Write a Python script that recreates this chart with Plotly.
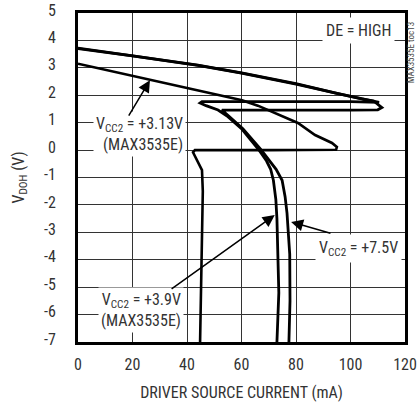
import plotly.graph_objects as go

# ---- data ----
x_tick_vals = [0, 20, 40, 60, 80, 100, 120]
x_tick_text = ["0", "20", "40", "60", "80", "100", "120"]
y_tick_vals = [5, 4, 3, 2, 1, 0, -1, -2, -3, -4, -5, -6, -7]
y_tick_text = ["5", "4", "3", "2", "1", "0", "-1", "-2", "-3", "-4", "-5", "-6", "-7"]

# Vcc2 = +3.13V (MAX3535E)
x_313 = [0, 20, 39.3, 50, 60.2, 66, 71.2, 76, 80.7, 87.0, 93.2, 95.0, 94.7, 70, 42.9, 42.2, 44.0, 45.5, 45.8, 45.5, 45.1, 44.8]
y_313 = [3.15, 2.70, 2.29, 2.05, 1.82, 1.62, 1.39, 1.19, 0.99, 0.55, 0.26, 0.11, 0.01, 0.0, 0.0, -0.08, -0.44, -0.73, -1.5, -3.0, -5.0, -7.0]

# Vcc2 = +3.9V (MAX3535E)
x_39 = [0, 20, 44, 60, 80, 95, 104, 108.5, 110.5, 100, 60, 45.5, 44.8, 47, 51.4, 55, 60, 66.2, 69.2, 70.7, 71.7, 72.6, 73.0, 73.3, 73.7, 73.0]
y_39 = [3.72, 3.45, 3.1, 2.82, 2.42, 2.07, 1.88, 1.80, 1.74, 1.77, 1.77, 1.77, 1.72, 1.62, 1.46, 1.22, 0.78, 0.03, -0.4, -0.7, -1.1, -1.8, -2.5, -3.65, -5.2, -7.0]

# Vcc2 = +7.5V
x_75 = [0, 20, 44, 60, 80, 95, 104, 108.5, 111.5, 110, 100, 70, 52.8, 55.5, 60.5, 67, 70.5, 72.7, 74.9, 76, 76.7, 77.2, 77.7, 77.8, 77.4]
y_75 = [3.70, 3.44, 3.09, 2.81, 2.41, 2.06, 1.87, 1.79, 1.55, 1.47, 1.46, 1.46, 1.46, 1.22, 0.78, 0.03, -0.4, -0.7, -1.1, -1.7, -2.3, -3.0, -3.8, -5.5, -7.0]

FONT = "Liberation Sans Narrow, Roboto Condensed, Arial Narrow, Liberation Sans, sans-serif"
TXT = "#333333"

fig = go.Figure()
for xs, ys, w in [(x_313, y_313, 2.6), (x_39, y_39, 2.8), (x_75, y_75, 2.8)]:
    fig.add_trace(go.Scatter(x=xs, y=ys, mode="lines",
                             line=dict(color="black", width=w),
                             showlegend=False, hoverinfo="skip"))

axis_common = dict(showgrid=True, gridcolor="#333333", gridwidth=1,
                   zeroline=False, showline=True, mirror=True,
                   linecolor="black", linewidth=3,
                   ticks="outside", tickcolor="rgba(0,0,0,0)",
                   tickfont=dict(family=FONT, size=16, color=TXT),
                   automargin=False, fixedrange=True)

fig.update_xaxes(range=[0, 120], tickvals=x_tick_vals, ticktext=x_tick_text, ticklen=6,
                 title=dict(text="DRIVER SOURCE CURRENT (mA)", standoff=14,
                            font=dict(family=FONT, size=16, color=TXT)),
                 **axis_common)
fig.update_yaxes(range=[-7, 5], tickvals=y_tick_vals, ticktext=y_tick_text, ticklen=16,
                 ticklabelshift=-3,
                 title=dict(text="V<sub>DOH</sub> (V)", standoff=16,
                            font=dict(family=FONT, size=16, color=TXT)),
                 **axis_common)

lab_font = dict(family=FONT, size=16, color=TXT)

annotations = [
    dict(x=102.8, y=4.38, text="DE = HIGH", showarrow=False, bgcolor="white",
         font=lab_font, xanchor="center", yanchor="middle", borderpad=3),
    dict(x=39.5, y=0.58, text="V<sub>CC2</sub> = +3.13V<br>(MAX3535E)", showarrow=False,
         bgcolor="white", font=lab_font, xanchor="right", yanchor="middle", align="right", borderpad=2),
    dict(x=118.8, y=-3.58, text="V<sub>CC2</sub> = +7.5V", showarrow=False,
         bgcolor="white", font=lab_font, xanchor="right", yanchor="middle", borderpad=3),
    dict(x=38.8, y=-5.85, text="V<sub>CC2</sub> = +3.9V<br>(MAX3535E)", showarrow=False,
         bgcolor="white", font=lab_font, xanchor="right", yanchor="middle", align="right", borderpad=2),
    # arrows
    dict(x=26.4, y=2.55, ax=18.3, ay=1.2, axref="x", ayref="y", text="", showarrow=True,
         arrowhead=2, arrowsize=1.6, arrowwidth=1.5, arrowcolor="black"),
    dict(x=78.2, y=-2.62, ax=93.2, ay=-3.05, axref="x", ayref="y", text="", showarrow=True,
         arrowhead=2, arrowsize=1.6, arrowwidth=1.5, arrowcolor="black"),
    dict(x=72.2, y=-2.37, ax=33.8, ay=-5.1, axref="x", ayref="y", text="", showarrow=True,
         arrowhead=2, arrowsize=1.6, arrowwidth=1.5, arrowcolor="black"),
    # figure id
    dict(x=1.021, y=0.88, xref="paper", yref="paper", text="MAX3535E toc13", textangle=-90,
         showarrow=False, xanchor="center", yanchor="middle",
         font=dict(family=FONT, size=9, color="#444444")),
]
fig.update_layout(annotations=annotations)

fig.update_layout(width=417, height=404, margin=dict(l=78, r=12, t=13, b=62, autoexpand=False),
                  plot_bgcolor="white", paper_bgcolor="white")

# remove the default 8px page margin so the 417x404 figure fills the window
fig.write_html("out.html", config={"displayModeBar": False, "staticPlot": True},
               post_script="document.body.style.margin='0';document.body.style.overflow='hidden';")
